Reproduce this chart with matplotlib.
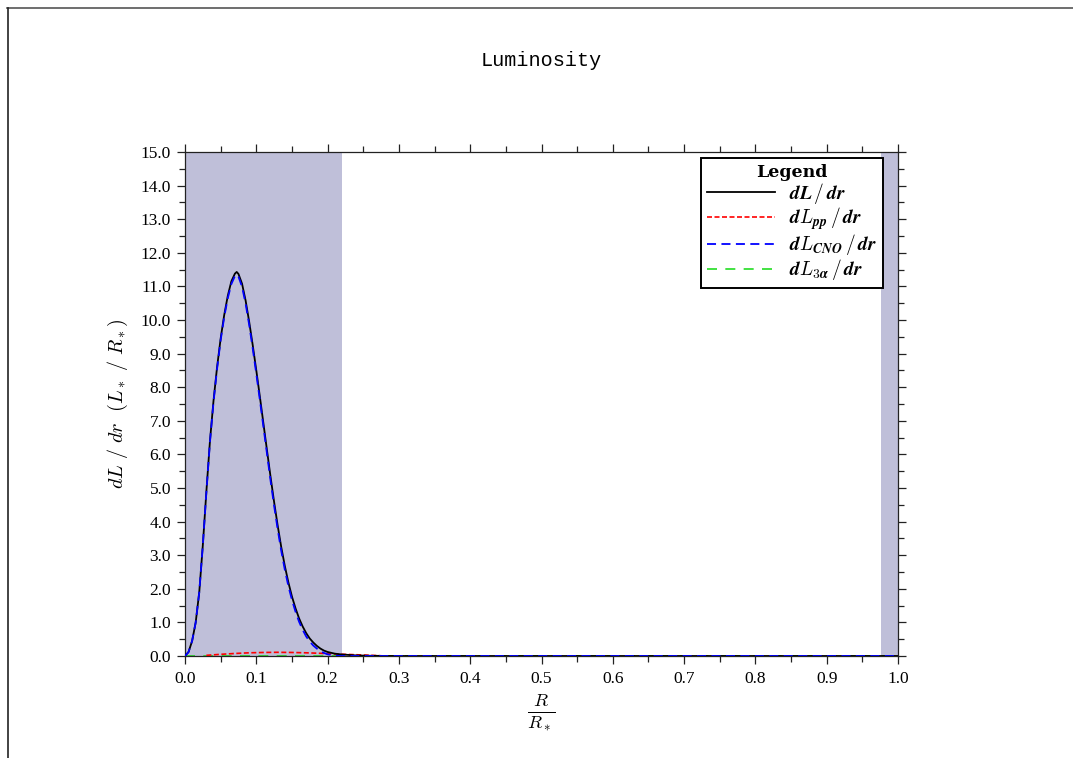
import matplotlib
matplotlib.use("Agg")
import matplotlib.pyplot as plt
from matplotlib.lines import Line2D
from matplotlib.ticker import MultipleLocator, FormatStrFormatter

plt.rcParams["mathtext.fontset"] = "cm"

# radius (R/R*) and luminosity gradients (L*/R*)
r = [0.0, 0.005, 0.01, 0.015, 0.02, 0.025, 0.03, 0.035, 0.04, 0.045,
     0.05, 0.055, 0.06, 0.065, 0.07, 0.0725, 0.075, 0.08, 0.085, 0.09, 0.095,
     0.10, 0.105, 0.11, 0.115, 0.12, 0.125, 0.13, 0.135, 0.14, 0.145,
     0.15, 0.155, 0.16, 0.165, 0.17, 0.175, 0.18, 0.185, 0.19, 0.195,
     0.20, 0.21, 0.22, 0.24, 0.26, 0.28, 0.30, 0.40, 0.60, 0.80, 1.0]
dL_total = [0.0, 0.12, 0.45, 1.0, 1.9, 3.3, 4.9, 6.4, 7.6, 8.6,
            9.45, 10.15, 10.72, 11.15, 11.38, 11.43, 11.37, 11.08, 10.58, 9.95, 9.25,
            8.5, 7.72, 6.92, 6.12, 5.33, 4.58, 3.88, 3.24, 2.68, 2.19,
            1.77, 1.42, 1.12, 0.88, 0.68, 0.52, 0.4, 0.3, 0.22, 0.16,
            0.12, 0.07, 0.045, 0.018, 0.007, 0.002, 0.0, 0.0, 0.0, 0.0, 0.0]
dL_cno = [0.0, 0.12, 0.45, 1.0, 1.9, 3.3, 4.88, 6.37, 7.56, 8.55,
          9.4, 10.09, 10.65, 11.07, 11.31, 11.35, 11.29, 10.99, 10.49, 9.86, 9.15,
          8.4, 7.62, 6.82, 6.02, 5.22, 4.47, 3.77, 3.13, 2.57, 2.08,
          1.67, 1.32, 1.02, 0.78, 0.58, 0.43, 0.31, 0.22, 0.14, 0.09,
          0.05, 0.01, 0.0, 0.0, 0.0, 0.0, 0.0, 0.0, 0.0, 0.0, 0.0]
r_pp = [0.03, 0.05, 0.07, 0.09, 0.11, 0.13, 0.15, 0.17, 0.19, 0.21,
        0.23, 0.25, 0.27, 0.28]
dL_pp = [0.02, 0.05, 0.075, 0.095, 0.105, 0.11, 0.105, 0.095, 0.08, 0.06,
         0.045, 0.03, 0.012, 0.0]
r_3a = [0.0, 1.0]
dL_3a = [0.0, 0.0]

# convective zones
conv_zones = [(0.0, 0.22), (0.976, 1.0)]

W, H = 1073, 758
fig = plt.figure(figsize=(W / 100, H / 100), dpi=100)
ax = fig.add_axes([185 / W, 1 - 656 / H, 713 / W, 504 / H])

for a, b in conv_zones:
    ax.axvspan(a, b, color="#bfbfd9", lw=0, zorder=0)

ax.plot(r_3a, dL_3a, color="#22dd22", ls=(0, (6, 5)), lw=1.2,
        label=r"$\boldsymbol{dL_{\mathbf{3}\boldsymbol{\alpha}}\,/\,dr}$", zorder=2)
ax.plot(r_pp, dL_pp, color="red", ls=(0, (3, 1.5)), lw=1.2,
        label=r"$\boldsymbol{dL_{\boldsymbol{pp}}\,/\,dr}$", zorder=3)
ax.plot(r, dL_total, color="black", lw=1.3, label=r"$\boldsymbol{dL\,/\,dr}$", zorder=4)
ax.plot(r, dL_cno, color="blue", ls=(0, (5, 3)), lw=1.3,
        label=r"$\boldsymbol{dL_{\boldsymbol{CNO}}\,/\,dr}$", zorder=5)

ax.set_xlim(0, 1)
ax.set_ylim(0, 15)
ax.xaxis.set_major_locator(MultipleLocator(0.1))
ax.xaxis.set_minor_locator(MultipleLocator(0.05))
ax.yaxis.set_major_locator(MultipleLocator(1.0))
ax.yaxis.set_minor_locator(MultipleLocator(0.5))
ax.xaxis.set_major_formatter(FormatStrFormatter("%.1f"))
ax.yaxis.set_major_formatter(FormatStrFormatter("%.1f"))
ax.tick_params(which="both", direction="out", top=True, right=True,
               labelsize=12.5, labelfontfamily="Liberation Serif",
               width=0.9, color="#222222")
ax.tick_params(which="major", length=6)
ax.tick_params(which="minor", length=4)
ax.tick_params(axis="x", which="major", pad=5)
ax.tick_params(axis="y", which="major", pad=4)
for s in ax.spines.values():
    s.set_linewidth(0.9)
    s.set_color("#222222")

ax.set_xlabel(r"$\frac{R}{R_*}$", fontsize=19, labelpad=3)
ax.set_ylabel(r"$dL\ /\ dr\ \ (L_*\ /\ R_*)$", fontsize=14.5, labelpad=8)
fig.text(541 / W, 1 - 61 / H, "Luminosity", family="Liberation Mono",
         fontsize=14.5, ha="center", va="center")

h, l = ax.get_legend_handles_labels()
order = [2, 1, 3, 0]
leg = ax.legend([h[i] for i in order], [l[i] for i in order],
                title="Legend", loc="upper right",
                bbox_to_anchor=((883 - 185) / 713, (656 - 158) / 504),
                borderaxespad=0, fancybox=False, framealpha=1,
                edgecolor="black", fontsize=14, handlelength=3.5,
                handletextpad=0.7, labelspacing=0.0, borderpad=0.3)
leg.get_title().set_fontweight("bold")
leg.get_title().set_family("DejaVu Serif")
leg.get_title().set_fontsize(12.5)
leg.get_frame().set_linewidth(1.4)

# page frame
fig.add_artist(Line2D([7 / W, 1], [1 - 8 / H, 1 - 8 / H], transform=fig.transFigure, color="#555555", lw=1.2))
fig.add_artist(Line2D([7.5 / W, 7.5 / W], [0, 1 - 8 / H], transform=fig.transFigure, color="#222222", lw=1.2))

fig.savefig("out.png", dpi=100)
